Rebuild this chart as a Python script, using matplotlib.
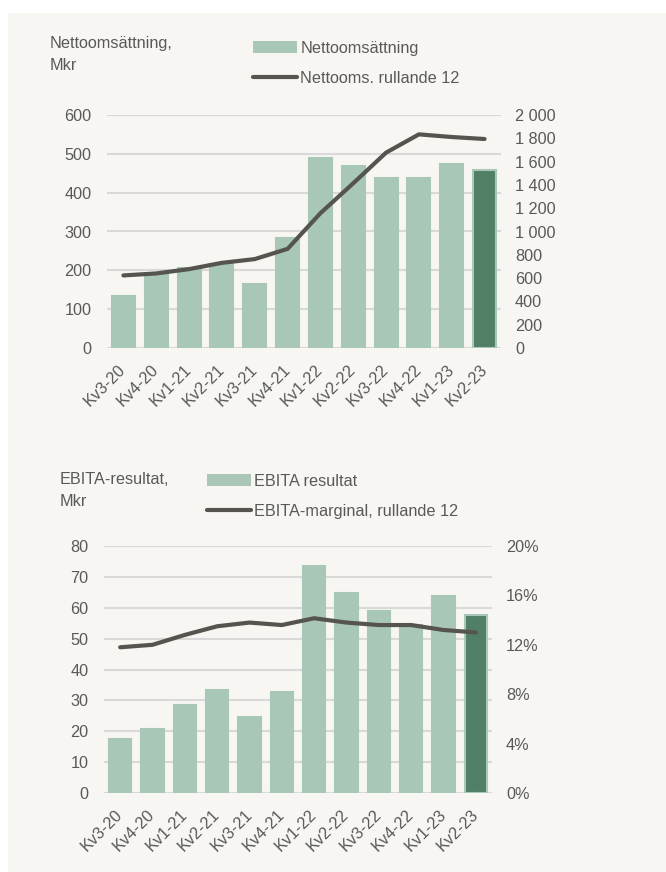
import matplotlib
matplotlib.use("Agg")
import matplotlib.pyplot as plt
from matplotlib.patches import Rectangle, Patch
from matplotlib.lines import Line2D
from matplotlib.ticker import FuncFormatter, MultipleLocator

# data
quarters = ["Kv3-20", "Kv4-20", "Kv1-21", "Kv2-21", "Kv3-21", "Kv4-21",
            "Kv1-22", "Kv2-22", "Kv3-22", "Kv4-22", "Kv1-23", "Kv2-23"]
netsales = [133, 187, 205, 217, 165, 283, 489, 469, 437, 437, 474, 458]
netsales_r12 = [623, 640, 677, 731, 763, 851, 1157, 1414, 1677, 1834, 1811, 1794]
ebita = [17.6, 20.6, 28.5, 33.2, 24.5, 32.6, 73.4, 64.8, 58.8, 54.5, 63.9, 57.5]
ebita_margin = [11.8, 12.0, 12.8, 13.5, 13.8, 13.6, 14.15, 13.8, 13.6, 13.6, 13.2, 13.0]

light = "#a9c7b7"
dark = "#507f66"
linec = "#55544f"
txt = "#595959"
grid = "#d9d9d9"
bg = "#f7f6f2"

plt.rcParams["font.family"] = ["Liberation Sans", "DejaVu Sans"]
plt.rcParams["font.size"] = 11.7
plt.rcParams["text.color"] = txt

W, H = 666, 872
fig = plt.figure(figsize=(W / 100, H / 100), dpi=100, facecolor="white")
fig.add_artist(Rectangle((8 / W, 0), 1 - 8 / W, 1 - 13 / H, transform=fig.transFigure,
                         facecolor=bg, edgecolor="none", zorder=-10))


def box(l, t, r, b):
    return [l / W, 1 - b / H, (r - l) / W, (b - t) / H]


def make_chart(rect, bars, line, ymax, ystep, y2max, y2step, fmt2, title, title_xy,
               leg_labels, leg_xy):
    ax = fig.add_axes(rect)
    ax.set_facecolor("none")
    x = range(len(quarters))
    colors = [light] * (len(bars) - 1) + [dark]
    edges = [light] * len(bars)
    ax.bar(x, bars, width=0.7, color=colors, edgecolor=edges, linewidth=1.5, zorder=2)
    ax.set_xlim(-0.5, len(quarters) - 0.5)
    ax.set_ylim(0, ymax)
    ax.yaxis.set_major_locator(MultipleLocator(ystep))
    ax.grid(axis="y", color=grid, linewidth=1.5, zorder=0)
    ax.set_axisbelow(True)
    for s in ax.spines.values():
        s.set_visible(False)
    ax.set_xticks(list(x))
    ax.set_xticklabels(quarters, rotation=45, ha="right", va="center",
                       rotation_mode="anchor")
    ax.tick_params(axis="both", length=0, colors=txt)
    ax.tick_params(axis="x", pad=14)
    ax.tick_params(axis="y", pad=11)

    ax2 = ax.twinx()
    ax2.plot(x, line, color=linec, linewidth=3, solid_capstyle="round", zorder=3)
    ax2.set_ylim(0, y2max)
    ax2.yaxis.set_major_locator(MultipleLocator(y2step))
    ax2.yaxis.set_major_formatter(FuncFormatter(fmt2))
    for s in ax2.spines.values():
        s.set_visible(False)
    ax2.tick_params(axis="y", length=0, colors=txt, pad=10)

    fig.text(title_xy[0] / W, 1 - title_xy[1] / H, title, ha="left", va="top",
             linespacing=1.55, color=txt)
    handles = [Patch(facecolor=light, edgecolor="none"),
               Line2D([], [], color=linec, linewidth=3, solid_capstyle="round")]
    fig.legend(handles, leg_labels, loc="upper left",
               bbox_to_anchor=(leg_xy[0] / W, 1 - leg_xy[1] / H),
               frameon=False, borderpad=0, borderaxespad=0, handlelength=2.7,
               handleheight=0.75, handletextpad=0.2, labelspacing=0.9,
               labelcolor=txt)
    return ax, ax2


make_chart(box(107, 115, 501, 348), netsales, netsales_r12, 600, 100, 2000, 200,
           lambda v, p: f"{int(v):,}".replace(",", " "),
           "Nettoomsättning,\nMkr", (50, 36),
           ["Nettoomsättning", "Nettooms. rullande 12"], (253, 41))

make_chart(box(104, 546, 492, 793), ebita, ebita_margin, 80, 10, 20, 4,
           lambda v, p: f"{v:.0f}%",
           "EBITA-resultat,\nMkr", (60, 472),
           ["EBITA resultat", "EBITA-marginal, rullande 12"], (207, 474))

fig.savefig("out.png", dpi=100, facecolor=fig.get_facecolor())
